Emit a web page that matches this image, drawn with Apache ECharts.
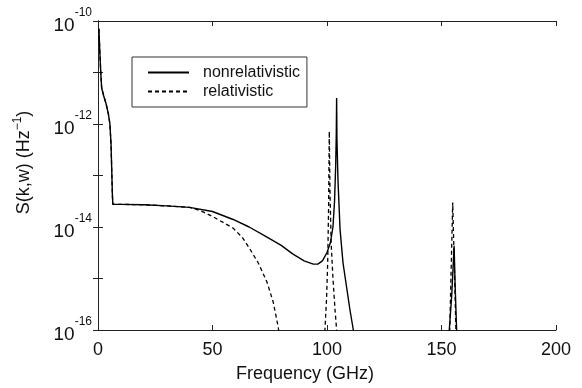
<!DOCTYPE html>
<html>
<head>
<meta charset="utf-8">
<script src="https://cdn.jsdelivr.net/npm/echarts@6/dist/echarts.min.js"></script>
<style>
  html, body { margin: 0; padding: 0; background: #fff; }
  #chart { width: 582px; height: 388px; }
</style>
</head>
<body>
<div id="chart"></div>
<script>
// frequency (GHz) and S(k,w) (Hz^-1)
const nonrelFreq = [0.4, 0.8, 1.2, 1.6, 2.5, 3.5, 4.5, 5.2, 5.7, 6.0, 6.3, 6.5, 10, 20, 30, 40, 50, 59, 66, 74, 80, 85, 90, 94, 96, 98, 100, 101.5, 102.6, 103.3, 103.8, 104.05, 104.2, 104.35, 104.8, 105.7, 107, 108, 110, 111.5, 113, 150, 153.4, 154.5, 155.5, 156.0, 156.6, 158];
const nonrelS = [7.1e-11, 2.5e-11, 1e-11, 5e-12, 3.5e-12, 2.5e-12, 1.6e-12, 1e-12, 4e-13, 1.26e-13, 4e-14, 2.75e-14, 2.75e-14, 2.7e-14, 2.57e-14, 2.4e-14, 2.0e-14, 1.4e-14, 1.0e-14, 6.3e-15, 4.4e-15, 3.0e-15, 2.2e-15, 1.9e-15, 1.9e-15, 2.2e-15, 3.2e-15, 5e-15, 1e-14, 3.2e-14, 1.6e-13, 6.3e-13, 3.2e-12, 5e-13, 8e-14, 9e-15, 2e-15, 1e-15, 2.5e-16, 1e-16, 5e-17, 5e-17, 1e-16, 5e-16, 4.3e-15, 6.3e-16, 1e-16, 5e-17];

const relFreq = [0.4, 0.8, 1.2, 1.6, 2.5, 3.5, 4.5, 5.2, 5.7, 6.0, 6.3, 6.5, 10, 20, 30, 40, 44.5, 50, 55, 59, 63, 66.4, 70, 73.8, 76.5, 78.6, 79.2, 81, 97, 99.1, 99.8, 100.3, 100.7, 101.0, 101.3, 101.8, 102.6, 103.5, 104.2, 106, 150, 153.6, 154.9, 156.3, 158];
const relS = [7.1e-11, 2.5e-11, 1e-11, 5e-12, 3.5e-12, 2.5e-12, 1.6e-12, 1e-12, 4e-13, 1.26e-13, 4e-14, 2.75e-14, 2.75e-14, 2.7e-14, 2.57e-14, 2.4e-14, 2.1e-14, 1.6e-14, 1.2e-14, 9.5e-15, 6.3e-15, 3.7e-15, 2e-15, 8.5e-16, 3.5e-16, 1.2e-16, 8e-17, 5e-17, 5e-17, 1e-16, 4e-16, 2e-15, 2.5e-14, 7.2e-13, 5e-14, 5e-15, 1e-15, 2.5e-16, 1e-16, 5e-17, 5e-17, 1e-16, 3e-14, 1e-16, 5e-17];

const xTicks = [0, 50, 100, 150, 200];

const zip = (xs, ys) => xs.map((x, i) => [x, ys[i]]);

const chart = echarts.init(document.getElementById('chart'));

const font = 'Liberation Sans, Arial, sans-serif';
const axisColor = '#222';

function expLabel(v) {
  const e = Math.round(Math.log10(v));
  if (e % 2 !== 0) return '';
  return '{b|10}{s|' + e + '}';
}

const option = {
  animation: false,
  backgroundColor: '#fff',
  grid: { left: 98, right: 26, top: 21, bottom: 57 },
  legend: {
    orient: 'vertical',
    left: 132,
    top: 57,
    padding: [7, 7, 7, 15],
    itemWidth: 41,
    itemHeight: 14,
    itemGap: 2,
    borderColor: '#333',
    borderWidth: 1,
    borderRadius: 0,
    itemStyle: { opacity: 0 },
    textStyle: { fontFamily: font, fontSize: 16, lineHeight: 17, color: '#111', padding: [0, 0, 0, 9] },
    data: ['nonrelativistic', 'relativistic']
  },
  xAxis: [
    {
      type: 'value', min: 0, max: 200, interval: 50,
      name: 'Frequency (GHz)', nameLocation: 'middle', nameGap: 35,
      nameTextStyle: { fontFamily: font, fontSize: 18, color: '#111', padding: [0, 44, 0, 0] },
      axisLine: { lineStyle: { color: axisColor, width: 1 } },
      axisTick: { inside: true, length: 5, lineStyle: { color: axisColor } },
      axisLabel: { fontFamily: font, fontSize: 18, color: '#111', margin: 11,
        formatter: v => xTicks.includes(v) ? String(v) : '' },
      splitLine: { show: false }
    },
    {
      type: 'value', min: 0, max: 200, interval: 50, position: 'top',
      axisLine: { lineStyle: { color: axisColor, width: 1 } },
      axisTick: { inside: true, length: 5, lineStyle: { color: axisColor } },
      axisLabel: { show: false },
      splitLine: { show: false }
    }
  ],
  yAxis: [
    {
      type: 'log', logBase: 10, min: 1e-16, max: 1e-10, splitNumber: 6,
      name: '{n|S(k,w) (Hz}{t|−1}{n|)}', nameLocation: 'middle', nameGap: 62, nameRotate: 90,
      nameTextStyle: {
        padding: [0, 0, 0, 26],
        rich: {
          n: { fontFamily: font, fontSize: 18, color: '#111', lineHeight: 24 },
          t: { fontFamily: font, fontSize: 12, color: '#111', verticalAlign: 'top', lineHeight: 24 }
        }
      },
      axisLine: { lineStyle: { color: axisColor, width: 1 } },
      axisTick: { inside: true, length: 5, lineStyle: { color: axisColor } },
      axisLabel: {
        margin: 6,
        formatter: expLabel,
        rich: {
          b: { fontFamily: font, fontSize: 19, color: '#111', lineHeight: 28, verticalAlign: 'bottom' },
          s: { fontFamily: font, fontSize: 12, color: '#111', lineHeight: 28, verticalAlign: 'top' }
        }
      },
      splitLine: { show: false }
    },
    {
      type: 'log', logBase: 10, min: 1e-16, max: 1e-10, splitNumber: 6, position: 'right',
      axisLine: { lineStyle: { color: axisColor, width: 1 } },
      axisTick: { inside: true, length: 5, lineStyle: { color: axisColor } },
      axisLabel: { show: false },
      splitLine: { show: false }
    }
  ],
  series: [
    {
      name: 'nonrelativistic', type: 'line', xAxisIndex: 0, yAxisIndex: 0,
      data: zip(nonrelFreq, nonrelS), symbol: 'none', clip: true,
      lineStyle: { color: '#000', width: 1.4 }, itemStyle: { color: '#000' }
    },
    {
      name: 'relativistic', type: 'line', xAxisIndex: 0, yAxisIndex: 0,
      data: zip(relFreq, relS), symbol: 'none', clip: true,
      lineStyle: { color: '#000', width: 1.3, type: [4, 3] }, itemStyle: { color: '#000' }
    }
  ]
};

chart.setOption(option);
</script>
</body>
</html>
